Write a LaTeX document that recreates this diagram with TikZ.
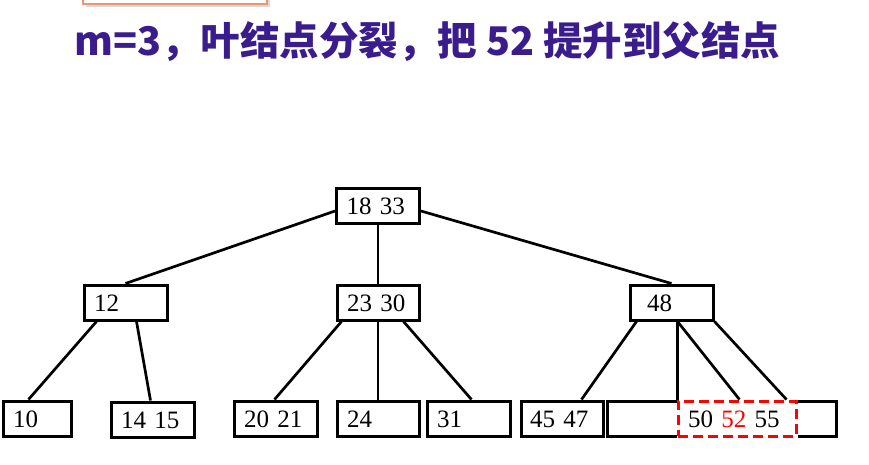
\documentclass[tikz,border=0pt]{standalone}
\usepackage{fontspec}
\setmainfont{Liberation Serif}
\newfontfamily\cjk{Noto Sans CJK SC}
\usetikzlibrary{calc}
\definecolor{ttl}{RGB}{58,28,140}
\definecolor{orng}{RGB}{235,150,110}
\begin{document}
\begin{tikzpicture}[x=1pt,y=-1pt,
  kbox/.style={draw, line width=3pt, minimum height=35pt, inner xsep=10pt, inner ysep=0pt,
    text height=17pt, text depth=0pt, align=left, font=\fontsize{25}{25}\selectfont, fill=white},
  redbox/.style={kbox, draw=red, dashed, dash pattern=on 10pt off 5pt, fill=none,
    preaction={draw=white, solid, line width=3pt}},
  edge/.style={line width=2.7pt}]
\useasboundingbox (0,0) rectangle (869,464);
% clipped tab at the top
\fill[black!15] (86,-12) rectangle (270,7);
\node[draw=orng, line width=1.2pt, fill=white, minimum width=184pt, minimum height=20pt, inner sep=0pt] (tab) at (175,-6) {};
% title
\node[anchor=base west, text=ttl, font=\cjk\bfseries\fontsize{39.5}{40}\selectfont, inner sep=0pt] (title) at (74,55) {m=3，叶结点分裂，把 52 提升到父结点};
% nodes
\node[kbox, text width=63pt] (root) at (378,206) {18 33};
\node[kbox, text width=63pt] (n12) at (125.5,302.5) {12};
\node[kbox, text width=62pt] (n2330) at (378,302.5) {23 30};
\node[kbox, inner xsep=17pt, text width=49pt] (n48) at (671.5,302.5) {48};
\node[kbox, text width=48pt] (n10) at (37,418.5) {10};
\node[kbox, text width=63pt] (n1415) at (152.5,419.5) {14 15};
\node[kbox, text width=63pt] (n2021) at (275.5,418.5) {20 21};
\node[kbox, text width=62pt] (n24) at (378,418.5) {24};
\node[kbox, text width=63pt] (n31) at (468.5,418.5) {31};
\node[kbox, inner xsep=9pt, text width=64pt] (n4547) at (562,418.5) {45 47};
\node[kbox, text width=209pt] (nbig) at (721.5,418.5) {};
\node[redbox, text width=98pt] (nred) at (737,418.5) {50 \textcolor{red}{52} 55};
% edges
\draw[edge] ($(root.west)+(0,5)$) -- (n12.north);
\draw[edge] (root.south) -- (n2330.north);
\draw[edge] ($(root.east)+(0,5)$) -- (n48.north);
\draw[edge] ($(n12.south west)+(14,0)$) -- ($(n10.north west)+(27,0)$);
\draw[edge] ($(n12.south west)+(54,0)$) -- ($(n1415.north west)+(41,0)$);
\draw[edge] ($(n2330.south west)+(6,0)$) -- ($(n2021.north west)+(42,0)$);
\draw[edge] (n2330.south) -- (n24.north);
\draw[edge] ($(n2330.south west)+(68,0)$) -- ($(n31.north west)+(46,0)$);
\draw[edge] ($(n48.south west)+(8,0)$) -- ($(n4547.north west)+(62,0)$);
\draw[edge] ($(n48.south west)+(49,0)$) -- ($(nred.north west)+(1,0)$);
\draw[edge] ($(n48.south west)+(49,0)$) -- ($(nred.north west)+(63,0)$);
\draw[edge] (n48.south east) -- ($(nred.north west)+(110,0)$);
\end{tikzpicture}
\end{document}
